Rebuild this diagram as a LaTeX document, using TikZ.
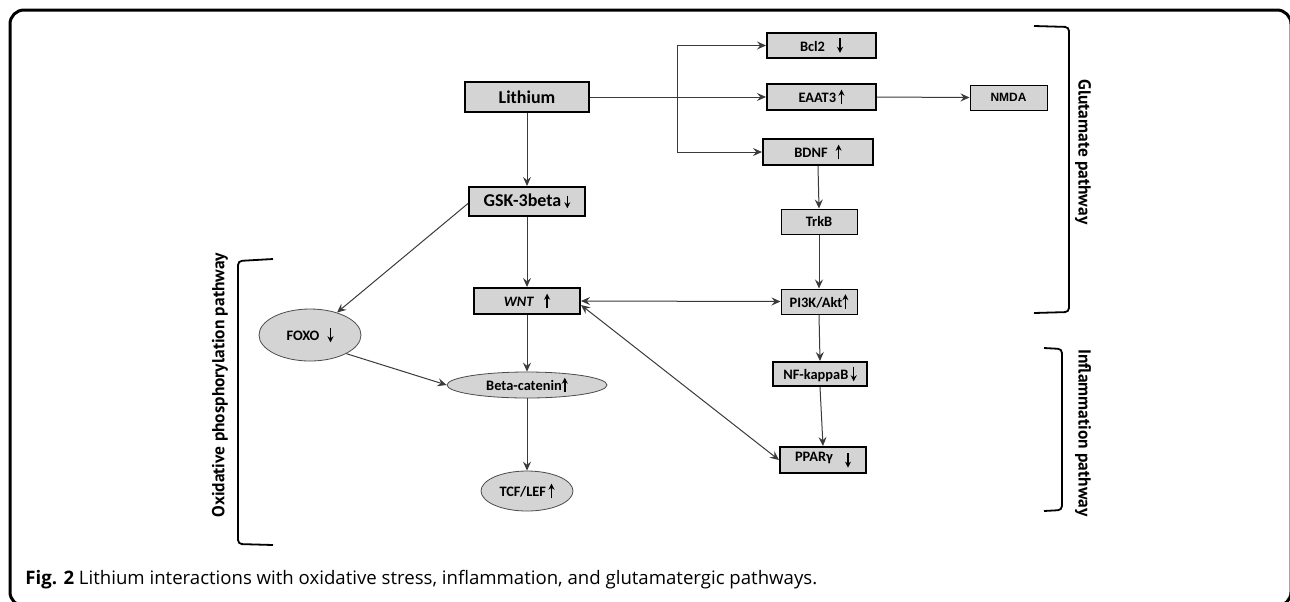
\documentclass[tikz,border=0pt]{standalone}
\usepackage{fontspec}
\setmainfont{Carlito}
\newfontfamily\capfont{Open Sans}
\newfontfamily\labfont{PT Sans}
\newfontfamily\arialfont{Liberation Sans}
\usetikzlibrary{arrows.meta,shapes.geometric,calc}
\definecolor{boxgray}{HTML}{D4D4D4}
\definecolor{linegray}{HTML}{3A3A3A}
\newcommand\myup[1][6.5pt]{\tikz[baseline=0pt]\draw[line width=0.75pt,-{Stealth[length=3pt,width=3pt]}] (0,-0.8pt)--(0,#1);}
\newcommand\mydn[1][6.5pt]{\tikz[baseline=0pt]\draw[line width=0.75pt,-{Stealth[length=3pt,width=3pt]}] (0,#1)--(0,-0.8pt);}
\tikzset{
  thickbox/.style={draw=black,line width=1pt,fill=boxgray,inner sep=0pt,font=\bfseries\fontsize{7.2}{8}\selectfont},
  thinbox/.style={draw=black,line width=0.5pt,fill=boxgray,inner sep=0pt,font=\bfseries\fontsize{7.2}{8}\selectfont},
  ell/.style={ellipse,draw=black!70,line width=0.4pt,fill=boxgray,inner sep=0pt,font=\bfseries\fontsize{7.2}{8}\selectfont},
  conn/.style={draw=linegray,line width=0.5pt,-{Stealth[length=4.5pt,width=4pt,inset=1.6pt]}},
  dconn/.style={draw=linegray,line width=0.5pt,{Stealth[length=4.5pt,width=4pt,inset=1.6pt]}-{Stealth[length=4.5pt,width=4pt,inset=1.6pt]}},
  brk/.style={draw=black,line width=0.9pt,rounded corners=2pt},
  lab/.style={font=\labfont\bfseries\fontsize{8.7}{9}\selectfont},
}
\begin{document}
\begin{tikzpicture}[x=0.5pt,y=-0.5pt]
\useasboundingbox (0,0) rectangle (1290,601);
\clip (0,0) rectangle (1290,601);
\draw[line width=1.5pt,rounded corners=7pt] (10,10) rectangle (1291,606);

% nodes
\node[thickbox,minimum width=62pt,minimum height=15pt,font=\bfseries\fontsize{9}{10}\selectfont] (li) at (527,97) {Lithium};
\node[thickbox,minimum width=58pt,minimum height=14.5pt,font=\bfseries\fontsize{9}{10}\selectfont] (gsk) at (527,201.5) {GSK-3beta\,\mydn[5.5pt]};
\node[thickbox,minimum width=54.5pt,minimum height=12.5pt] (bcl) at (821.5,45.5) {Bcl2\hspace{6pt}\mydn};
\node[thickbox,minimum width=54.5pt,minimum height=13pt] (eaat) at (821.5,97) {EAAT3\,\myup};
\node[thickbox,minimum width=55pt,minimum height=13pt] (bdnf) at (818,152) {BDNF\hspace{4pt}\myup};
\node[thinbox,minimum width=38.5pt,minimum height=12.5pt,font=\arialfont\bfseries\fontsize{6}{7}\selectfont] (nmda) at (1008.5,97.5) {NMDA};
\node[thinbox,minimum width=38pt,minimum height=12.5pt] (trkb) at (819,221.5) {TrkB};
\node[thinbox,minimum width=38pt,minimum height=12.5pt] (pi3k) at (819,301.5) {PI3K/Akt\myup};
\node[thickbox,minimum width=53pt,minimum height=13pt] (wnt) at (527,301) {\textit{WNT}\hspace{5pt}\myup};
\node[thickbox,minimum width=47pt,minimum height=12pt] (nfk) at (820,374) {NF-kappaB\,\mydn};
\node[thickbox,minimum width=43pt,minimum height=13pt] (ppar) at (823,460) {PPARγ\hspace{6pt}\raisebox{-2.5pt}{\mydn}};
\node[ell,minimum width=80pt,minimum height=13pt] (beta) at (527,385) {Beta-catenin\myup};
\node[ell,minimum width=51pt,minimum height=26pt] (foxo) at (310,335) {FOXO\hspace{4pt}\mydn};
\node[ell,minimum width=46pt,minimum height=20pt] (tcf) at (527,491) {TCF/LEF\,\myup};

% connectors
\coordinate (br) at (677,97);
\draw[conn] (li.east) -- (eaat.west);
\draw[conn] (br) |- (bcl.west);
\draw[conn] (br) |- (bdnf.west);
\draw[conn] (eaat.east) -- (nmda.west);
\draw[conn] (li.south) -- (gsk.north);
\draw[conn] (bdnf.south) -- (trkb.north);
\draw[conn] (trkb.south) -- (pi3k.north);
\draw[conn] (gsk.south) -- (wnt.north);
\draw[dconn] (wnt.east) -- (pi3k.west);
\draw[conn] (pi3k.south) -- (nfk.north);
\draw[conn] (nfk.south) -- (ppar.north);
\draw[dconn] ([yshift=-2pt]wnt.east) -- (ppar.west);
\draw[conn] ([yshift=-1pt]gsk.west) -- (foxo);
\draw[conn] (foxo.south east) -- (beta.west);
\draw[conn] (wnt.south) -- (beta.north);
\draw[conn] (beta.south) -- (tcf.north);

% brackets
\draw[brk] (1034,26) -- (1069,27) -- (1069,312) -- (1034,313);
\draw[brk] (1044,348) -- (1062,349) -- (1062,510) -- (1044,511);
\draw[brk] (273,259) -- (238,261) -- (238,544) -- (273,545);
\node[lab,rotate=-90] (glu) at (1083,152) {Glutamate pathway};
\node[lab,rotate=-90] (inf) at (1083,433) {Inflammation pathway};
\node[lab,rotate=90] (oxi) at (220,385) {Oxidative phosphorylation pathway};

% caption
\node[anchor=west,inner sep=0pt,font=\capfont\fontsize{9.3}{10}\selectfont] (cap) at (25,580) {\textbf{Fig. 2} Lithium interactions with oxidative stress, inflammation, and glutamatergic pathways.};
\end{tikzpicture}
\end{document}
